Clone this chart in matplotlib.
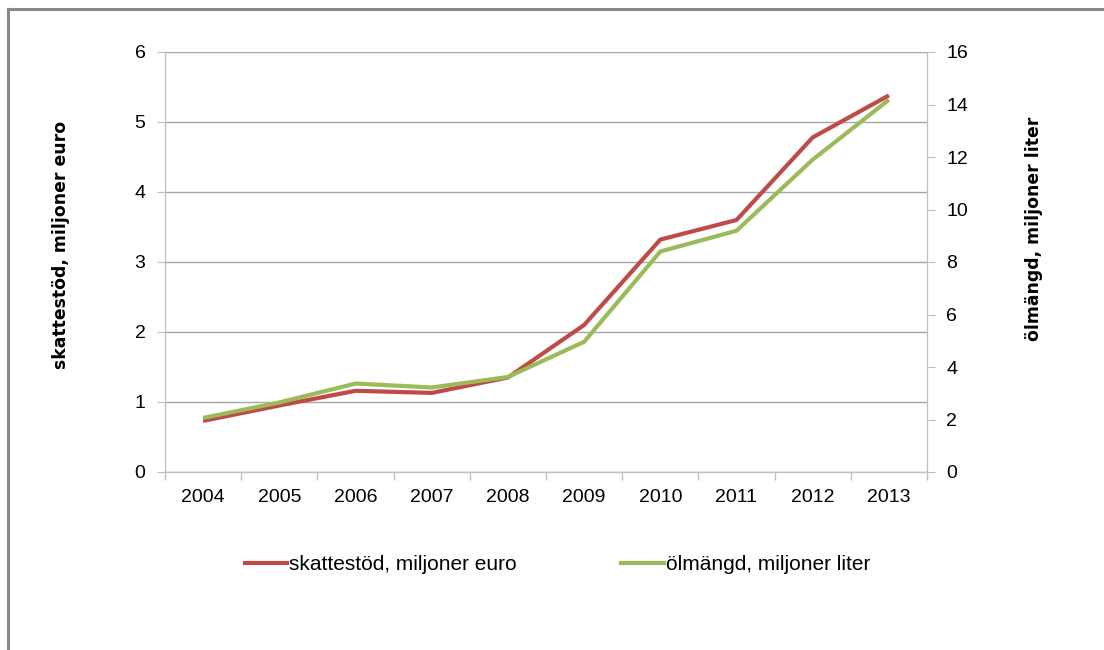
import numpy as np
import matplotlib.pyplot as plt
from matplotlib.lines import Line2D

# Data
years = ['2004', '2005', '2006', '2007', '2008', '2009', '2010', '2011', '2012', '2013']
skattestod = [0.73, 0.95, 1.16, 1.13, 1.35, 2.1, 3.32, 3.6, 4.78, 5.38]
olmangd = [2.06, 2.65, 3.37, 3.22, 3.62, 4.96, 8.4, 9.19, 11.9, 14.18]

left_label = 'skattestöd, miljoner euro'
right_label = 'ölmängd, miljoner liter'

plt.rcParams['font.family'] = ['Liberation Sans', 'DejaVu Sans']

red = '#BE4B48'
green = '#9BBB59'
grid_c = '#A6A6A6'
axis_c = '#BFBFBF'

fig = plt.figure(figsize=(11.04, 6.5), dpi=100)
ax = fig.add_axes([165/1104, 1 - 472/650, (927-165)/1104, (472-52)/650])
ax2 = ax.twinx()

x = np.arange(len(years))
ax.plot(x, skattestod, color=red, lw=3, solid_capstyle='butt', zorder=3)
ax2.plot(x, olmangd, color=green, lw=3, solid_capstyle='butt', zorder=3)

ax.set_xlim(-0.5, len(years) - 0.5)
ax.set_ylim(0, 6)
ax2.set_ylim(0, 16)
ax.set_yticks(range(0, 7))
ax2.set_yticks(range(0, 17, 2))

# ticks between categories, labels at the centers
ax.set_xticks(np.arange(-0.5, len(years)))
ax.set_xticklabels([])
ax.set_xticks(x, minor=True)
ax.set_xticklabels(years, minor=True)
ax.tick_params(axis='x', which='major', length=6, color=axis_c, width=1)
ax.tick_params(axis='x', which='minor', length=0, pad=12, labelsize=14)
ax.tick_params(axis='y', length=6, color=axis_c, labelsize=14, pad=8)
ax2.tick_params(axis='y', length=6, color=axis_c, labelsize=14, pad=8)

ax.grid(axis='y', color=grid_c, lw=1)
ax.set_axisbelow(True)

for a in (ax, ax2):
    a.spines['top'].set_visible(False)
    for s in ('left', 'right', 'bottom'):
        a.spines[s].set_color(axis_c)

ax.set_ylabel(left_label, family='DejaVu Sans', fontweight='bold', fontsize=12.4)
ax.yaxis.set_label_coords(-0.125, 0.54)
ax2.set_ylabel(right_label, family='DejaVu Sans', fontweight='bold', fontsize=12.4)
ax2.yaxis.set_label_coords(1.129, 0.58)

h1 = Line2D([], [], color=red, lw=3)
h2 = Line2D([], [], color=green, lw=3)
fig.legend([h1, h2], [left_label, right_label], loc='center', bbox_to_anchor=(0.505, 1 - 565/650),
           ncol=2, frameon=False, fontsize=15, handlelength=2.05, handletextpad=0.1,
           columnspacing=5.0)

# outer frame (top and left visible)
fig.add_artist(Line2D([8/1104, 1], [1 - 9/650, 1 - 9/650], color='#888888', lw=2.2))
fig.add_artist(Line2D([8/1104, 8/1104], [0, 1 - 9/650], color='#888888', lw=2.2))

fig.savefig('out.png', dpi=100)
